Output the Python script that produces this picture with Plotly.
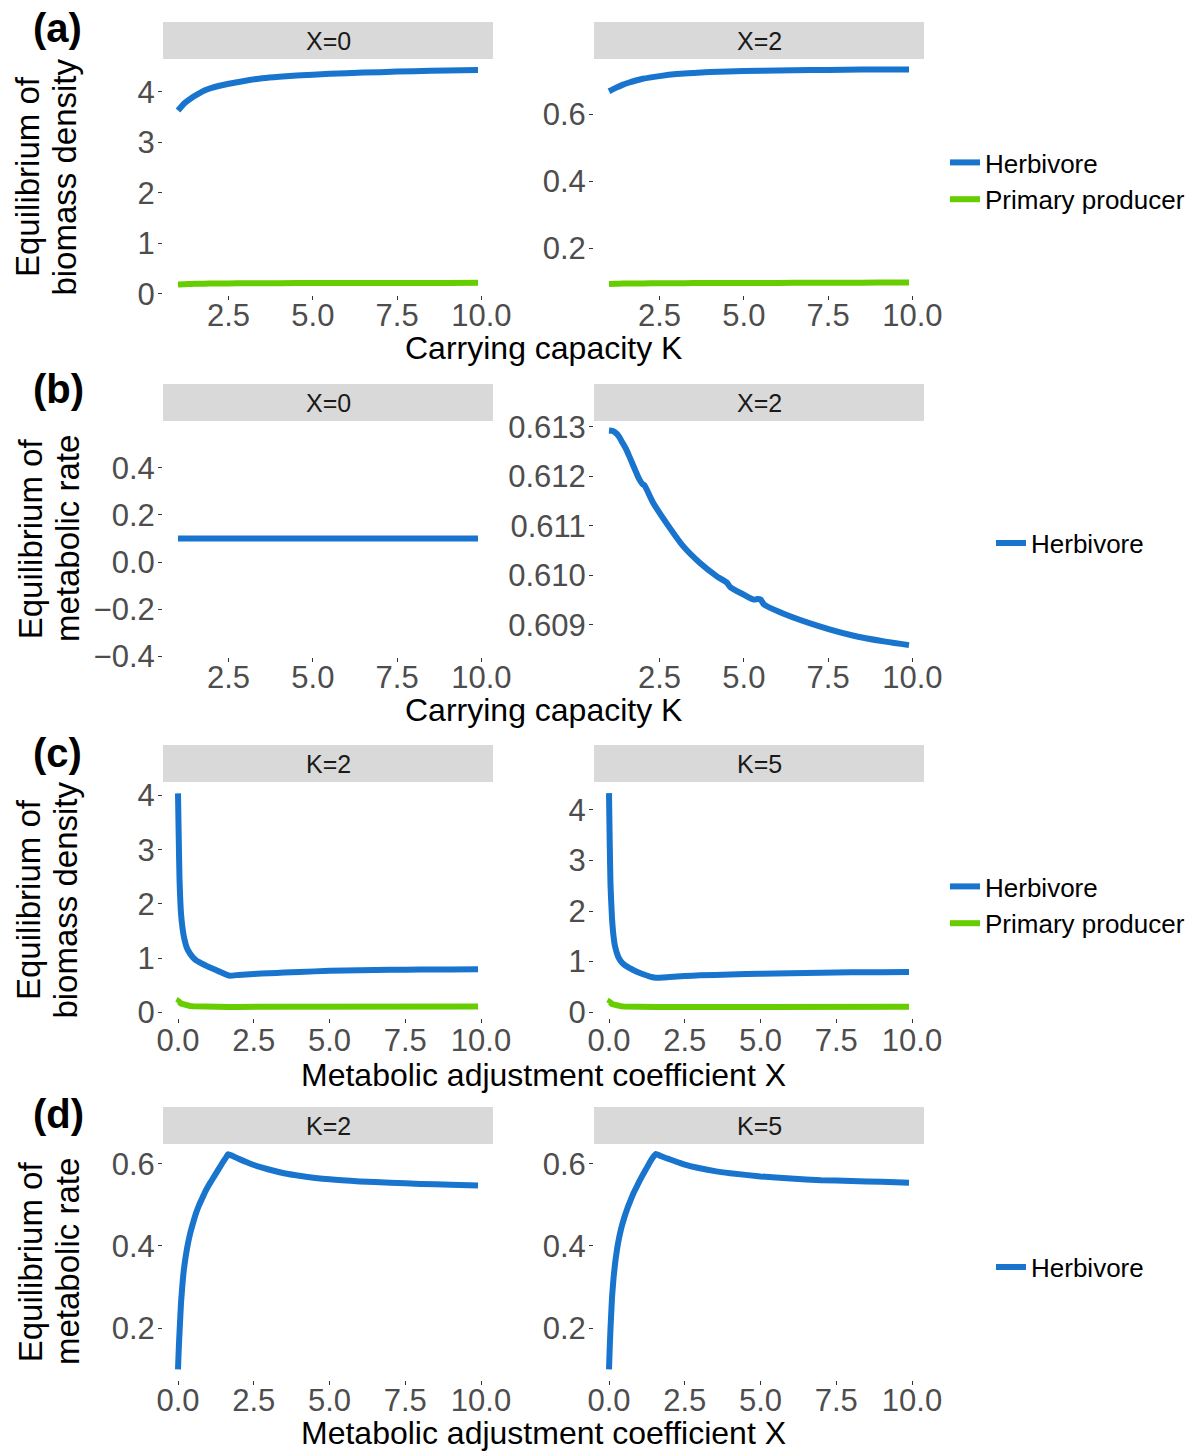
import plotly.graph_objects as go

# ---------------- data ----------------
# (a) equilibrium biomass density vs carrying capacity K
K_a = [1.0, 1.2, 1.4, 1.6, 1.8, 2.0, 2.5, 3.0, 3.5, 4.0, 5.0, 6.0, 7.0, 8.0, 9.0, 9.9]
herb_biomass_x0 = [3.63, 3.78, 3.88, 3.96, 4.03, 4.08, 4.16, 4.22, 4.27, 4.30, 4.34, 4.37, 4.39, 4.41, 4.42, 4.43]
prod_biomass_x0 = [0.190, 0.195, 0.200, 0.203, 0.205, 0.207, 0.210, 0.212, 0.213, 0.214, 0.216, 0.217, 0.218, 0.219, 0.219, 0.220]
herb_biomass_x2 = [0.668, 0.678, 0.687, 0.694, 0.700, 0.705, 0.713, 0.719, 0.722, 0.725, 0.728, 0.730, 0.731, 0.732, 0.733, 0.733]
prod_biomass_x2 = [0.094, 0.0945, 0.095, 0.095, 0.0955, 0.0955, 0.096, 0.096, 0.0965, 0.0965, 0.097, 0.097, 0.0975, 0.0975, 0.098, 0.098]

# (b) equilibrium metabolic rate vs carrying capacity K
K_b0 = [1.0, 2.5, 5.0, 7.5, 9.9]
herb_rate_x0 = [0.1, 0.1, 0.1, 0.1, 0.1]
K_b2 = [1.0, 1.1, 1.2, 1.3, 1.4, 1.5, 1.6, 1.7, 1.8, 1.9, 2.0, 2.05, 2.3, 2.7, 3.2, 3.7,
        4.2, 4.5, 4.6, 5.0, 5.3, 5.4, 5.5, 5.6, 6.2, 7.2, 8.2, 9.2, 9.9]
herb_rate_x2 = [0.61293, 0.61292, 0.61288, 0.61280, 0.61268, 0.61256, 0.61241, 0.61225, 0.61209,
                0.61194, 0.61184, 0.61182, 0.61148, 0.61106, 0.61059, 0.61025, 0.60998, 0.60985,
                0.60976, 0.60961, 0.60951, 0.60952, 0.60951, 0.60941, 0.60922, 0.60898, 0.60879,
                0.60866, 0.60859]

# (c) equilibrium biomass density vs metabolic adjustment coefficient X
X_c2 = [0.0, 0.025, 0.05, 0.1, 0.15, 0.2, 0.3, 0.4, 0.5, 0.6, 0.7, 0.8, 0.9, 1.0, 1.2, 1.4, 1.7,
        2.0, 2.5, 3.0, 3.5, 4.0, 5.0, 6.0, 7.0, 8.0, 9.0, 9.9]
herb_biomass_k2 = [4.04, 3.20, 2.45, 1.82, 1.55, 1.38, 1.18, 1.08, 1.01, 0.96, 0.925, 0.895, 0.868, 0.840,
                   0.795, 0.745, 0.677, 0.690, 0.708, 0.722, 0.733, 0.745, 0.765, 0.776, 0.784, 0.789, 0.792, 0.794]
prod_biomass_k2 = [0.17, 0.20, 0.19, 0.16, 0.15, 0.14, 0.125, 0.118, 0.113, 0.110, 0.108, 0.106, 0.105, 0.104,
                   0.102, 0.101, 0.100, 0.100, 0.100, 0.100, 0.101, 0.101, 0.102, 0.103, 0.103, 0.104, 0.104, 0.105]
X_c5 = [0.0, 0.025, 0.05, 0.1, 0.15, 0.2, 0.3, 0.4, 0.5, 0.6, 0.7, 0.8, 1.0, 1.2, 1.4, 1.55,
        2.0, 2.5, 3.0, 4.0, 5.0, 6.0, 7.0, 8.0, 9.0, 9.9]
herb_biomass_k5 = [4.33, 3.30, 2.50, 1.85, 1.50, 1.30, 1.10, 1.00, 0.94, 0.90, 0.865, 0.835, 0.780, 0.735,
                   0.695, 0.680, 0.695, 0.715, 0.728, 0.745, 0.760, 0.770, 0.780, 0.787, 0.791, 0.794]
prod_biomass_k5 = [0.17, 0.20, 0.19, 0.16, 0.15, 0.14, 0.125, 0.118, 0.113, 0.110, 0.108, 0.106, 0.104, 0.102,
                   0.101, 0.100, 0.100, 0.100, 0.100, 0.101, 0.102, 0.103, 0.103, 0.104, 0.104, 0.105]

# (d) equilibrium metabolic rate vs metabolic adjustment coefficient X
X_d2 = [0.0, 0.025, 0.05, 0.1, 0.15, 0.2, 0.3, 0.4, 0.5, 0.6, 0.7, 0.8, 0.9, 1.0, 1.1, 1.2, 1.3,
        1.4, 1.5, 1.6, 1.65, 1.8, 2.0, 2.25, 2.5, 3.0, 3.5, 4.0, 5.0, 6.0, 7.0, 8.0, 9.0, 9.9]
herb_rate_k2 = [0.100, 0.150, 0.190, 0.262, 0.310, 0.346, 0.395, 0.430, 0.457, 0.481, 0.500, 0.516, 0.532,
                0.546, 0.558, 0.570, 0.582, 0.594, 0.606, 0.617, 0.623, 0.619, 0.612, 0.604, 0.597, 0.586,
                0.577, 0.571, 0.562, 0.557, 0.554, 0.551, 0.549, 0.547]
X_d5 = [0.0, 0.025, 0.05, 0.1, 0.15, 0.2, 0.3, 0.4, 0.5, 0.6, 0.7, 0.8, 0.9, 1.0, 1.1, 1.2, 1.3,
        1.4, 1.5, 1.55, 1.7, 2.0, 2.5, 3.0, 3.5, 4.0, 5.0, 6.0, 7.0, 8.0, 9.0, 9.9]
herb_rate_k5 = [0.100, 0.155, 0.200, 0.275, 0.322, 0.357, 0.407, 0.442, 0.468, 0.490, 0.509, 0.527, 0.542,
                0.557, 0.571, 0.584, 0.597, 0.610, 0.620, 0.624, 0.619, 0.611, 0.598, 0.589, 0.582, 0.577,
                0.569, 0.564, 0.560, 0.558, 0.556, 0.554]

# tick positions / labels
k_ticks = [2.5, 5.0, 7.5, 10.0]
k_ticktext = ["2.5", "5.0", "7.5", "10.0"]
x_ticks = [0.0, 2.5, 5.0, 7.5, 10.0]
x_ticktext = ["0.0", "2.5", "5.0", "7.5", "10.0"]
biomass_ticks = [0, 1, 2, 3, 4]
biomass_ticktext = ["0", "1", "2", "3", "4"]
small_ticks = [0.2, 0.4, 0.6]
small_ticktext = ["0.2", "0.4", "0.6"]
rate_x0_ticks = [-0.4, -0.2, 0.0, 0.2, 0.4]
rate_x0_ticktext = ["\u22120.4", "\u22120.2", "0.0", "0.2", "0.4"]
rate_x2_ticks = [0.609, 0.610, 0.611, 0.612, 0.613]
rate_x2_ticktext = ["0.609", "0.610", "0.611", "0.612", "0.613"]

strip_labels = ["X=0", "X=2", "X=0", "X=2", "K=2", "K=5", "K=2", "K=5"]
panel_tags = ["(a)", "(b)", "(c)", "(d)"]

# ---------------- styling / layout ----------------
BLUE = "#1874CD"
GREEN = "#66CD00"
FONT = "Liberation Sans, Arial, sans-serif"
W, H = 1202, 1452
LW = 6


def fx(p):
    return p / W


def fy(p):
    return 1 - p / H


col_px = [(163, 493), (594, 924)]
row_px = [(59, 295), (421, 657), (782, 1018), (1144, 1380)]
row_label_standoff = [-11, -11, -9, -11]
strip_h = 37

fig = go.Figure()

series = [
    # panel, x, y, name, colour, legend, show in legend, line shape, smoothing
    (1, K_a, herb_biomass_x0, "Herbivore", BLUE, "legend", True, "spline", 0.7),
    (1, K_a, prod_biomass_x0, "Primary producer", GREEN, "legend", True, "spline", 0.7),
    (2, K_a, herb_biomass_x2, "Herbivore", BLUE, "legend", False, "spline", 0.7),
    (2, K_a, prod_biomass_x2, "Primary producer", GREEN, "legend", False, "spline", 0.7),
    (3, K_b0, herb_rate_x0, "Herbivore", BLUE, "legend2", True, "linear", None),
    (4, K_b2, herb_rate_x2, "Herbivore", BLUE, "legend2", False, "spline", 0.7),
    (5, X_c2, herb_biomass_k2, "Herbivore", BLUE, "legend3", True, "spline", 0.4),
    (5, X_c2, prod_biomass_k2, "Primary producer", GREEN, "legend3", True, "linear", None),
    (6, X_c5, herb_biomass_k5, "Herbivore", BLUE, "legend3", False, "spline", 0.4),
    (6, X_c5, prod_biomass_k5, "Primary producer", GREEN, "legend3", False, "linear", None),
    (7, X_d2, herb_rate_k2, "Herbivore", BLUE, "legend4", True, "spline", 0.4),
    (8, X_d5, herb_rate_k5, "Herbivore", BLUE, "legend4", False, "spline", 0.4),
]
for idx, xs, ys, name, colour, leg, show, shape, smooth in series:
    line = dict(color=colour, width=LW, shape=shape)
    if smooth is not None:
        line["smoothing"] = smooth
    fig.add_trace(go.Scatter(
        x=xs, y=ys, mode="lines", name=name, line=line,
        xaxis=f"x{idx}", yaxis=f"y{idx}",
        legend=leg, showlegend=show, legendgroup=f"{leg}-{name}",
    ))

k_range = [0.555, 10.345]
x_range = [-0.495, 10.395]
axis_specs = [
    # x range, x ticks, x ticktext, y range, y ticks, y ticktext
    (k_range, k_ticks, k_ticktext, [-0.02, 4.65], biomass_ticks, biomass_ticktext),
    (k_range, k_ticks, k_ticktext, [0.061, 0.764], small_ticks, small_ticktext),
    (k_range, k_ticks, k_ticktext, [-0.403, 0.599], rate_x0_ticks, rate_x0_ticktext),
    (k_range, k_ticks, k_ticktext, [0.60835, 0.61312], rate_x2_ticks, rate_x2_ticktext),
    (x_range, x_ticks, x_ticktext, [-0.105, 4.25], biomass_ticks, biomass_ticktext),
    (x_range, x_ticks, x_ticktext, [-0.115, 4.55], biomass_ticks, biomass_ticktext),
    (x_range, x_ticks, x_ticktext, [0.074, 0.648], small_ticks, small_ticktext),
    (x_range, x_ticks, x_ticktext, [0.074, 0.648], small_ticks, small_ticktext),
]

tick_font = dict(family=FONT, size=31, color="#4d4d4d")
common = dict(showgrid=False, zeroline=False, showline=False, ticks="outside",
              ticklen=4, tickwidth=1, tickcolor="#333333", tickfont=tick_font,
              fixedrange=True, automargin=False)

layout = dict(
    template="none",
    width=W, height=H, margin=dict(l=0, r=0, t=0, b=0, autoexpand=False),
    paper_bgcolor="white", plot_bgcolor="white",
    font=dict(family=FONT), showlegend=True,
)
shapes = []
annotations = []
for i, (xr, xt, xtt, yr, yt, ytt) in enumerate(axis_specs):
    n = i + 1
    r, c = divmod(i, 2)
    x0, x1 = col_px[c]
    y0, y1 = row_px[r]
    layout[f"xaxis{n}"] = dict(domain=[fx(x0), fx(x1)], range=xr, tickvals=xt, ticktext=xtt,
                               anchor=f"y{n}", ticklabelstandoff=row_label_standoff[r], **common)
    layout[f"yaxis{n}"] = dict(domain=[fy(y1), fy(y0)], range=yr, tickvals=yt, ticktext=ytt,
                               anchor=f"x{n}", ticklabelstandoff=-3, **common)
    # facet strip
    shapes.append(dict(type="rect", xref="paper", yref="paper",
                       x0=fx(x0), x1=fx(x1), y0=fy(y0), y1=fy(y0 - strip_h),
                       fillcolor="#d9d9d9", line=dict(width=0), layer="below"))
    annotations.append(dict(text=strip_labels[i], xref="paper", yref="paper",
                            x=fx((x0 + x1) / 2), y=fy(y0 - strip_h / 2),
                            xanchor="center", yanchor="middle", showarrow=False,
                            font=dict(family=FONT, size=25, color="#1a1a1a")))

# panel tags
tag_y = [28, 389, 752.5, 1113.5]
for tag, ty in zip(panel_tags, tag_y):
    annotations.append(dict(text=f"<b>{tag}</b>", xref="paper", yref="paper",
                            x=fx(31), y=fy(ty), xanchor="left", yanchor="middle",
                            showarrow=False, font=dict(family=FONT, size=40, color="black")))

# x-axis titles
x_titles = ["Carrying capacity K", "Carrying capacity K",
            "Metabolic adjustment coefficient X", "Metabolic adjustment coefficient X"]
x_title_y = [347.5, 710, 1075, 1432.5]
for t, ty in zip(x_titles, x_title_y):
    annotations.append(dict(text=t, xref="paper", yref="paper", x=fx(543.5), y=fy(ty),
                            xanchor="center", yanchor="middle", showarrow=False,
                            font=dict(family=FONT, size=32, color="black")))

# y-axis titles (two lines each)
y_titles = [("Equilibrium of", "biomass density"), ("Equilibrium of", "metabolic rate"),
            ("Equilibrium of", "biomass density"), ("Equilibrium of", "metabolic rate")]
y_title_x = [(28, 64.6), (30.3, 67), (28, 64.6), (30.3, 67)]
for (l1, l2), (xa, xb), (y0, y1) in zip(y_titles, y_title_x, row_px):
    yc = (y0 + y1) / 2
    for txt, xc in ((l1, xa), (l2, xb)):
        annotations.append(dict(text=txt, xref="paper", yref="paper", x=fx(xc), y=fy(yc),
                                xanchor="center", yanchor="middle", textangle=-90,
                                showarrow=False, font=dict(family=FONT, size=33, color="black")))

layout["shapes"] = shapes
layout["annotations"] = annotations

legend_style = dict(xanchor="left", yanchor="middle", bgcolor="rgba(0,0,0,0)",
                    borderwidth=0, font=dict(family=FONT, size=26, color="black"),
                    traceorder="normal", tracegroupgap=0, itemclick=False, itemdoubleclick=False)
layout["legend"] = dict(x=fx(945), y=fy(181), **legend_style)
layout["legend2"] = dict(x=fx(991), y=fy(543), **legend_style)
layout["legend3"] = dict(x=fx(945), y=fy(905), **legend_style)
layout["legend4"] = dict(x=fx(991), y=fy(1267), **legend_style)

fig.update_layout(**layout)
fig.write_html("out.html")
